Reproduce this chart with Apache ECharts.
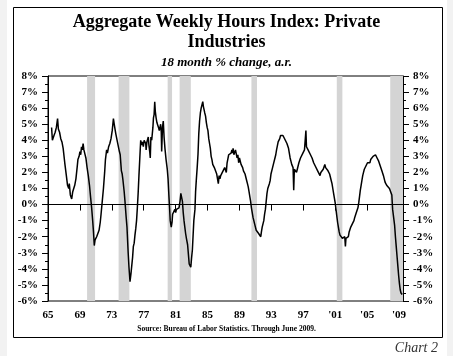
<!DOCTYPE html>
<html>
<head>
<meta charset="utf-8">
<script src="https://cdn.jsdelivr.net/npm/echarts@6/dist/echarts.min.js"></script>
<style>
html,body{margin:0;padding:0;background:#fff;}
#c{width:453px;height:356px;}
</style>
</head>
<body>
<div id="c"></div>
<script>
// ---- data (decimal year, 18-month % change annualized) ----
const years = [
1965.45,1965.55,1965.75,1965.9,1966.05,1966.2,1966.3,1966.45,1966.6,1966.75,1966.9,
1967.1,1967.3,1967.45,1967.6,1967.67,1967.8,1967.97,1968.1,1968.2,1968.35,1968.5,1968.65,1968.75,1968.9,
1969.0,1969.1,1969.2,1969.3,1969.4,1969.5,1969.6,1969.75,1969.9,1970.05,1970.2,1970.35,1970.47,1970.6,1970.7,1970.8,1970.9,
1971.0,1971.1,1971.25,1971.4,1971.55,1971.65,1971.8,1971.95,1972.1,1972.2,1972.35,1972.45,1972.6,1972.75,1972.9,
1973.05,1973.2,1973.3,1973.4,1973.5,1973.6,1973.7,1973.8,1973.95,1974.05,1974.2,1974.3,1974.4,1974.55,1974.65,1974.8,1974.9,
1975.05,1975.15,1975.28,1975.4,1975.5,1975.6,1975.7,1975.8,1975.9,1976.0,1976.1,1976.2,1976.3,1976.4,1976.5,1976.62,1976.75,1976.85,1976.95,
1977.05,1977.15,1977.25,1977.3,1977.4,1977.5,1977.57,1977.65,1977.75,1977.82,1977.9,1978.0,1978.07,1978.15,1978.22,1978.3,1978.38,1978.45,1978.55,1978.65,1978.75,1978.85,1978.95,
1979.05,1979.12,1979.2,1979.25,1979.35,1979.45,1979.55,1979.66,1979.8,1979.95,1980.05,1980.15,1980.25,1980.32,1980.45,1980.55,1980.62,1980.72,1980.8,1980.9,
1981.0,1981.1,1981.2,1981.3,1981.42,1981.55,1981.65,1981.75,1981.85,1981.95,1982.05,1982.15,1982.25,1982.35,1982.5,1982.6,1982.7,1982.8,1982.9,
1983.0,1983.1,1983.2,1983.28,1983.35,1983.42,1983.5,1983.6,1983.7,1983.8,1983.9,1984.0,1984.1,1984.2,1984.3,1984.4,1984.48,1984.55,1984.65,1984.75,1984.85,1984.95,
1985.05,1985.15,1985.25,1985.35,1985.45,1985.55,1985.65,1985.75,1985.85,1985.95,1986.05,1986.15,1986.25,1986.35,1986.45,1986.55,1986.65,1986.75,1986.85,1986.95,
1987.05,1987.15,1987.25,1987.35,1987.45,1987.55,1987.65,1987.75,1987.85,1987.95,1988.05,1988.15,1988.2,1988.3,1988.4,1988.5,1988.6,1988.7,1988.8,1988.9,
1989.0,1989.1,1989.2,1989.3,1989.4,1989.5,1989.6,1989.7,1989.8,1989.9,1990.0,1990.1,1990.2,1990.3,1990.4,1990.5,1990.6,1990.7,1990.8,1990.9,
1991.0,1991.1,1991.2,1991.3,1991.4,1991.5,1991.6,1991.67,1991.75,1991.85,1991.95,1992.05,1992.15,1992.25,1992.35,1992.45,1992.55,1992.65,1992.75,1992.85,1992.95,
1993.05,1993.15,1993.25,1993.35,1993.45,1993.55,1993.65,1993.75,1993.85,1993.95,1994.05,1994.15,1994.25,1994.35,1994.45,1994.55,1994.65,1994.75,1994.85,1994.95,
1995.05,1995.15,1995.25,1995.35,1995.45,1995.55,1995.65,1995.72,1995.8,1995.88,1995.95,1996.05,1996.15,1996.25,1996.35,1996.45,1996.55,1996.65,1996.75,1996.85,1996.95,
1997.05,1997.15,1997.25,1997.33,1997.4,1997.5,1997.6,1997.7,1997.8,1997.9,1998.0,1998.1,1998.2,1998.3,1998.4,1998.5,1998.6,1998.7,1998.8,1998.9,
1999.0,1999.1,1999.2,1999.3,1999.4,1999.5,1999.6,1999.7,1999.8,1999.9,2000.0,2000.1,2000.2,2000.3,2000.4,2000.5,2000.6,2000.7,2000.8,2000.9,
2001.0,2001.1,2001.2,2001.3,2001.4,2001.5,2001.6,2001.7,2001.8,2001.9,2002.0,2002.1,2002.2,2002.28,2002.35,2002.45,2002.55,2002.65,2002.75,2002.85,2002.95,
2003.05,2003.15,2003.25,2003.35,2003.45,2003.55,2003.65,2003.75,2003.85,2003.95,2004.05,2004.15,2004.25,2004.35,2004.45,2004.55,2004.65,2004.75,2004.85,2004.95,
2005.05,2005.15,2005.25,2005.35,2005.45,2005.55,2005.65,2005.75,2005.85,2005.95,2006.05,2006.15,2006.25,2006.35,2006.45,2006.55,2006.65,2006.75,2006.85,2006.95,
2007.05,2007.15,2007.25,2007.35,2007.45,2007.55,2007.7,2007.8,2007.9,2008.0,2008.1,2008.2,2008.3,2008.45,2008.55,2008.65,2008.75,2008.85,2008.95,
2009.05,2009.15,2009.25,2009.4
];
const values = [
4.8,4.0,4.3,4.5,4.8,5.35,4.7,4.5,4.1,3.9,3.5,
2.6,1.8,1.2,1.0,1.3,0.6,0.35,0.8,0.7,1.2,1.6,2.3,2.8,3.0,
3.3,3.1,3.6,3.4,3.8,3.4,3.2,2.9,2.3,1.8,1.2,0.4,-0.2,-1.0,-1.7,-2.55,-2.2,
-2.3,-2.0,-1.9,-1.6,-1.1,-0.6,0.2,1.0,2.0,2.8,3.4,3.2,3.6,3.8,4.1,
4.6,5.35,5.0,4.7,4.4,4.3,3.9,3.8,3.3,3.1,2.1,1.9,1.5,0.8,0.2,-0.8,-1.4,
-3.0,-3.9,-4.8,-4.3,-3.8,-3.3,-2.6,-2.4,-1.9,-1.5,-1.0,-0.2,0.7,1.8,2.8,4.0,3.7,3.9,3.6,
4.0,4.1,3.8,3.4,3.9,4.0,4.2,3.7,3.3,2.9,4.2,4.0,3.9,4.8,5.4,5.6,6.4,5.8,5.4,5.1,5.1,4.8,4.6,
4.7,5.0,4.5,3.3,4.8,5.2,4.2,3.5,2.8,2.2,1.6,0.6,-0.3,-1.0,-1.4,-1.1,-0.6,-0.5,-0.7,-0.3,
-0.5,-0.3,-0.4,-0.2,-0.2,0.2,0.7,0.6,0.2,-0.5,-1.0,-1.4,-1.8,-2.1,-2.5,-3.1,-3.7,-3.8,-3.9,
-3.3,-2.8,-1.8,-1.0,-0.9,-0.3,0.8,1.6,2.3,3.1,4.4,5.2,5.7,6.0,6.1,6.4,6.1,6.0,5.7,5.5,5.1,4.8,
4.6,4.1,3.8,3.5,3.0,2.8,2.5,2.6,2.3,2.4,2.3,1.9,1.9,1.3,1.8,1.6,1.8,1.7,2.0,2.1,
1.9,2.3,2.2,2.0,2.6,2.7,3.1,3.0,3.2,3.2,3.4,3.2,3.5,3.1,3.0,3.4,3.3,2.9,3.1,2.6,
2.9,2.7,2.5,2.6,2.3,2.1,2.0,1.9,1.7,1.5,1.3,1.1,0.8,0.5,0.2,-0.2,-0.5,-0.8,-1.0,-1.2,
-1.4,-1.6,-1.7,-1.6,-1.8,-1.8,-1.7,-2.0,-1.7,-1.4,-1.2,-1.0,-0.6,-0.3,0.2,0.7,1.0,1.1,1.3,1.5,1.9,
2.0,2.3,2.5,2.6,2.9,3.1,3.4,3.4,3.9,4.0,4.1,4.3,4.2,4.4,4.3,4.2,4.2,4.0,3.9,3.8,
3.7,3.5,3.2,2.9,2.7,2.5,2.4,2.3,0.9,2.2,2.1,2.1,2.0,2.2,2.4,2.6,2.6,2.9,2.8,3.0,3.2,
3.2,3.4,3.4,4.6,3.6,3.6,3.4,3.3,3.3,3.1,3.0,2.9,2.8,2.6,2.5,2.4,2.5,2.3,2.1,2.0,
2.0,1.8,2.0,2.1,2.0,2.2,2.3,2.5,2.3,2.4,2.2,2.1,2.0,1.9,1.7,1.5,1.3,1.0,0.7,0.4,
0.1,-0.3,-0.7,-1.1,-1.4,-1.7,-1.9,-2.0,-1.9,-2.1,-2.0,-2.2,-2.0,-2.6,-2.1,-2.2,-2.0,-2.0,-1.7,-1.6,-1.4,
-1.4,-1.2,-1.1,-1.0,-0.8,-0.8,-0.5,-0.4,-0.2,0.1,0.5,0.9,1.2,1.5,1.8,2.0,2.2,2.3,2.4,2.4,
2.6,2.5,2.7,2.6,2.8,2.9,2.8,3.0,3.1,3.0,3.1,3.0,2.9,2.8,2.7,2.6,2.4,2.3,2.1,2.0,
1.8,1.6,1.4,1.3,1.2,1.1,1.2,1.0,0.9,0.9,0.6,-0.3,-0.4,-1.3,-2.0,-2.6,-3.2,-3.8,-4.4,
-4.9,-5.3,-5.5,-5.6
];
// recession periods (decimal years)
const recessions = [
  [1969.9, 1970.9], [1973.85, 1975.2], [1980.0, 1980.55], [1981.5, 1982.9],
  [1990.5, 1991.2], [2001.2, 2001.9], [2007.9, 2009.5]
];
const baseYear = 1965;
const xTickLabels = ['65','69','73','77','81','85','89','93','97',"'01","'05","'09"];
const yMin = -6, yMax = 8;

const chart = echarts.init(document.getElementById('c'), null, {renderer:'canvas'});
const serif = 'Liberation Serif, Times New Roman, serif';
const lineData = years.map((y,i)=>[y-baseYear, values[i]]);
const areas = recessions.map(r=>[{xAxis:r[0]-baseYear},{xAxis:r[1]-baseYear}]);

const yAxisBase = (pos)=>({
  type:'value', position:pos, min:yMin, max:yMax, interval:1,
  axisLine:{show:true, lineStyle:{color:'#000', width:1}},
  axisTick:{show:true, length:6, lineStyle:{color:'#000'}},
  minorTick:{show:true, splitNumber:2, length:3, lineStyle:{color:'#000'}},
  splitLine:{show:false},
  axisLabel:{formatter:v=>v+'%', fontFamily:serif, fontWeight:'bold', fontSize:11, color:'#000', margin:10}
});

chart.setOption({
  animation:false,
  backgroundColor:'#fff',
  graphic:[
    {type:'rect', shape:{x:0,y:0,width:7,height:356}, style:{fill:'#f2f2f2'}, z:-10},
    {type:'rect', shape:{x:447,y:0,width:6,height:356}, style:{fill:'#f2f2f2'}, z:-10},
    {type:'rect', shape:{x:13.5,y:7.5,width:429,height:330}, style:{fill:'none', stroke:'#000', lineWidth:1}, z:10}
  ],
  title:[
    {text:'Aggregate Weekly Hours Index: Private\nIndustries', left:'center', top:7,
     textStyle:{fontFamily:serif, fontWeight:'bold', fontSize:18, color:'#000', lineHeight:20}},
    {text:'18 month % change, a.r.', left:'center', top:51,
     textStyle:{fontFamily:serif, fontWeight:'bold', fontStyle:'italic', fontSize:13, color:'#000'}},
    {text:'Source: Bureau of Labor Statistics. Through June 2009.', left:'center', top:320,
     textStyle:{fontFamily:serif, fontWeight:'bold', fontSize:7.5, color:'#000'}},
    {text:'Chart 2', right:10, top:336,
     textStyle:{fontFamily:serif, fontWeight:'normal', fontStyle:'italic', fontSize:14, color:'#333'}}
  ],
  grid:{left:48, right:50, top:76, bottom:55, show:true, borderColor:'#000', borderWidth:1, backgroundColor:'transparent'},
  xAxis:{
    type:'value', min:0, max:2009.5-baseYear, interval:4,
    axisLine:{show:true, lineStyle:{color:'#000'}},
    axisTick:{show:true, length:6, lineStyle:{color:'#000'}},
    splitLine:{show:false},
    axisLabel:{
      formatter:v=>{const i=Math.round(v/4); return (Math.abs(v-i*4)<1e-6 && i<xTickLabels.length)? xTickLabels[i]:'';},
      fontFamily:serif, fontWeight:'bold', fontSize:11, color:'#000', margin:9
    }
  },
  yAxis:[yAxisBase('left'), yAxisBase('right')],
  series:[{
    type:'line', data:lineData, yAxisIndex:0, showSymbol:false, symbol:'none',
    lineStyle:{color:'#000', width:1.5}, z:5,
    markArea:{silent:true, itemStyle:{color:'#d4d4d4'}, data:areas},
    markLine:{silent:true, symbol:['none','none'], label:{show:false},
      lineStyle:{color:'#000', width:1, type:'solid'}, data:[{yAxis:0}]}
  }]
});
</script>
</body>
</html>
